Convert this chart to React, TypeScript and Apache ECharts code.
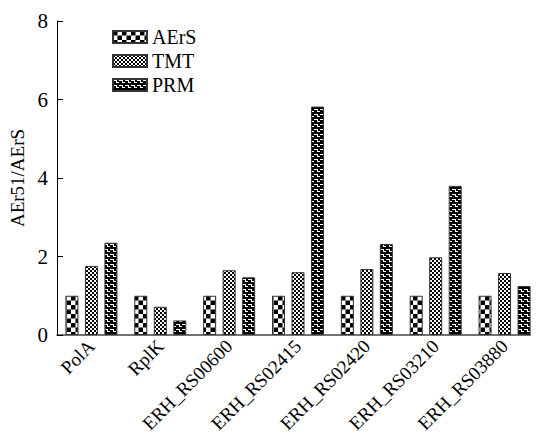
import React, { useEffect, useRef } from "react";
import * as echarts from "echarts";

const categories = ["PolA", "RplK", "ERH_RS00600", "ERH_RS02415", "ERH_RS02420", "ERH_RS03210", "ERH_RS03880"];
const seriesNames = ["AErS", "TMT", "PRM"];
const aersValues = [1, 1, 1, 1, 1, 1, 1];
const tmtValues = [1.76, 0.72, 1.65, 1.6, 1.68, 1.98, 1.58];
const prmValues = [2.35, 0.37, 1.47, 5.82, 2.32, 3.8, 1.25];
const yTicks = { min: 0, max: 8, interval: 2 };

function makeTile(w: number, h: number, draw: (ctx: CanvasRenderingContext2D) => void) {
  const c = document.createElement("canvas");
  c.width = w;
  c.height = h;
  const ctx = c.getContext("2d")!;
  draw(ctx);
  return c;
}

function patterns() {
  const checker = makeTile(9, 9, (ctx) => {
    ctx.fillStyle = "#fff";
    ctx.fillRect(0, 0, 9, 9);
    ctx.fillStyle = "#000";
    ctx.fillRect(0, 0, 4.5, 4.5);
    ctx.fillRect(4.5, 4.5, 4.5, 4.5);
  });
  const fine = makeTile(4, 4, (ctx) => {
    ctx.fillStyle = "#fff";
    ctx.fillRect(0, 0, 4, 4);
    ctx.fillStyle = "#000";
    ctx.fillRect(0, 0, 2, 2);
    ctx.fillRect(2, 2, 2, 2);
  });
  const steps = makeTile(6, 5, (ctx) => {
    ctx.fillStyle = "#000";
    ctx.fillRect(0, 0, 6, 5);
    ctx.fillStyle = "#fff";
    ctx.fillRect(0, 1, 4, 1);
    ctx.fillRect(3, 1, 1, 3);
    ctx.fillRect(3, 3, 3, 1);
  });
  return [checker, fine, steps].map((c) => ({
    image: c,
    repeat: "repeat",
    imageWidth: c.width,
    imageHeight: c.height,
  }));
}

export default function App() {
  const ref = useRef<HTMLDivElement>(null);
  useEffect(() => {
    const chart = echarts.init(ref.current!, null, { renderer: "svg" });
    const pats = patterns();
    const values = [aersValues, tmtValues, prmValues];
    const font = "Liberation Serif";
    chart.setOption({
      animation: false,
      backgroundColor: "#fff",
      grid: { left: 49, top: 13, right: 0, bottom: 112, containLabel: false, outerBoundsMode: "none" },
      legend: {
        orient: "vertical",
        left: 99,
        top: 14,
        icon: "rect",
        itemWidth: 34,
        itemHeight: 12,
        itemGap: 4,
        data: seriesNames,
        textStyle: { fontFamily: font, fontSize: 20, color: "#000" },
      },
      xAxis: {
        type: "category",
        data: categories,
        axisLine: { lineStyle: { color: "#444", width: 1.5 } },
        axisTick: { show: false },
        axisLabel: {
          rotate: 45,
          interval: 0,
          hideOverlap: false,
          overflow: "none",
          fontFamily: font,
          fontSize: 19,
          color: "#000",
        },
      },
      yAxis: {
        type: "value",
        min: yTicks.min,
        max: yTicks.max,
        interval: yTicks.interval,
        name: "AEr51/AErS",
        nameLocation: "middle",
        nameGap: 30,
        nameTextStyle: { fontFamily: font, fontSize: 19, color: "#000" },
        axisLine: { show: true, lineStyle: { color: "#000", width: 1 } },
        axisTick: { show: true, inside: true, length: 6, lineStyle: { color: "#000" } },
        splitLine: { show: false },
        axisLabel: { fontFamily: font, fontSize: 21, color: "#000", margin: 9 },
      },
      series: seriesNames.map((name, i) => ({
        name,
        type: "bar",
        data: values[i],
        barWidth: 13,
        barGap: "50%",
        itemStyle: { color: pats[i], borderColor: "#333", borderWidth: 1 },
      })),
    });
    return () => chart.dispose();
  }, []);
  return <div ref={ref} style={{ width: 531, height: 439 }} />;
}
